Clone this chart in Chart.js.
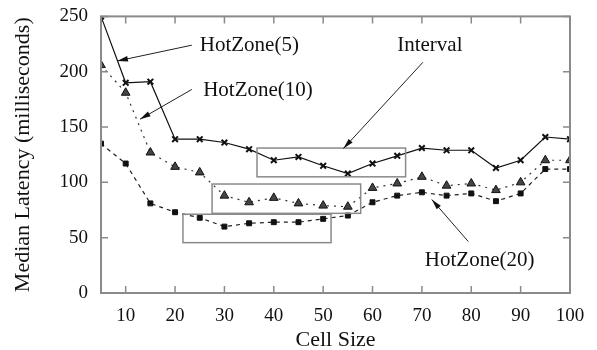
<!DOCTYPE html>
<html>
<head>
<meta charset="utf-8">
<script src="https://cdn.jsdelivr.net/npm/chart.js@4.4.0/dist/chart.umd.min.js"></script>
<style>
  html, body { margin: 0; padding: 0; background: #fff; }
  #wrap { width: 597px; height: 350px; }
</style>
</head>
<body>
<div id="wrap"><canvas id="myChart" width="597" height="350"></canvas></div>
<script>
const cellSize = [5, 10, 15, 20, 25, 30, 35, 40, 45, 50, 55, 60, 65, 70, 75, 80, 85, 90, 95, 100];
const hotZone5 = [250, 190, 191, 139, 139, 136, 130, 120, 123, 115, 108, 117, 124, 131, 129, 129, 113, 120, 141, 139];
const hotZone10 = [206, 181, 127, 114, 109, 88, 82, 86, 81, 79, 78, 95, 99, 105, 97, 99, 93, 100, 120, 120];
const hotZone20 = [135, 117, 81, 73, 68, 60, 63, 64, 64, 67, 70, 82, 88, 91, 88, 90, 83, 90, 112, 112];
const xTicks = [10, 20, 30, 40, 50, 60, 70, 80, 90, 100];
const yTicks = [0, 50, 100, 150, 200, 250];

// boxes and arrows in data units
const boxes = [
  { x0: 36.6, x1: 66.7, y0: 105, y1: 131 },
  { x0: 27.5, x1: 57.6, y0: 72, y1: 98.5 },
  { x0: 21.6, x1: 51.6, y0: 45.5, y1: 71.2 }
];
const notes = [
  { text: "HotZone(5)", x: 25.0, y: 224, from: [23.4, 224], to: [8.3, 209.7] },
  { text: "HotZone(10)", x: 25.7, y: 183, from: [23.4, 184], to: [12.9, 157] },
  { text: "Interval", x: 65.0, y: 224, from: [70.2, 208.5], to: [54.1, 130.5] },
  { text: "HotZone(20)", x: 70.6, y: 29, from: [79.4, 46.5], to: [72, 84.5] }
];

const serif = "'Liberation Serif', 'DejaVu Serif', serif";
const gray = "#8a8a8a";

const frame = {
  id: "frame",
  afterDatasetsDraw(chart) {
    const { ctx, chartArea: a, scales: { x, y } } = chart;
    ctx.save();
    ctx.strokeStyle = gray;
    ctx.lineWidth = 2;
    ctx.strokeRect(a.left, a.top, a.right - a.left, a.bottom - a.top);
    ctx.lineWidth = 1.5;
    ctx.beginPath();
    xTicks.forEach(v => {
      const px = x.getPixelForValue(v);
      ctx.moveTo(px, a.bottom); ctx.lineTo(px, a.bottom - 7);
      ctx.moveTo(px, a.top); ctx.lineTo(px, a.top + 7);
    });
    yTicks.forEach(v => {
      const py = y.getPixelForValue(v);
      ctx.moveTo(a.left, py); ctx.lineTo(a.left + 7, py);
      ctx.moveTo(a.right, py); ctx.lineTo(a.right - 7, py);
    });
    ctx.stroke();
    boxes.forEach(b => {
      const l = x.getPixelForValue(b.x0), r = x.getPixelForValue(b.x1);
      const t = y.getPixelForValue(b.y1), btm = y.getPixelForValue(b.y0);
      ctx.strokeRect(l, t, r - l, btm - t);
    });
    ctx.strokeStyle = "#222";
    ctx.fillStyle = "#111";
    ctx.lineWidth = 1;
    ctx.font = "21px " + serif;
    ctx.textBaseline = "middle";
    ctx.textAlign = "left";
    notes.forEach(n => {
      const fx = x.getPixelForValue(n.from[0]), fy = y.getPixelForValue(n.from[1]);
      const tx = x.getPixelForValue(n.to[0]), ty = y.getPixelForValue(n.to[1]);
      ctx.beginPath();
      ctx.moveTo(fx, fy); ctx.lineTo(tx, ty);
      ctx.stroke();
      const ang = Math.atan2(ty - fy, tx - fx);
      ctx.beginPath();
      ctx.moveTo(tx, ty);
      ctx.lineTo(tx - 11 * Math.cos(ang - 0.25), ty - 11 * Math.sin(ang - 0.25));
      ctx.lineTo(tx - 11 * Math.cos(ang + 0.25), ty - 11 * Math.sin(ang + 0.25));
      ctx.closePath();
      ctx.fill();
      ctx.fillText(n.text, x.getPixelForValue(n.x), y.getPixelForValue(n.y));
    });
    ctx.restore();
  }
};

function toPoints(arr) {
  return arr.map((v, i) => ({ x: cellSize[i], y: v }));
}

const canvas = document.getElementById("myChart");
const myChart = new Chart(canvas, {
  type: "line",
  data: {
    datasets: [
      {
        label: "HotZone(5)",
        data: toPoints(hotZone5),
        borderColor: "#111",
        borderWidth: 1.2,
        pointStyle: "crossRot",
        pointRadius: 4,
        pointBorderColor: "#111",
        pointBorderWidth: 2,
        tension: 0
      },
      {
        label: "HotZone(10)",
        data: toPoints(hotZone10),
        borderColor: "#333",
        borderWidth: 1.2,
        borderDash: [2, 5],
        pointStyle: "triangle",
        pointRadius: 5,
        pointBackgroundColor: "#444",
        pointBorderColor: "#111",
        pointBorderWidth: 1,
        tension: 0
      },
      {
        label: "HotZone(20)",
        data: toPoints(hotZone20),
        borderColor: "#222",
        borderWidth: 1.2,
        borderDash: [4, 4],
        pointStyle: "rect",
        pointRadius: 3.5,
        pointBackgroundColor: "#111",
        pointBorderColor: "#111",
        pointBorderWidth: 1,
        tension: 0
      }
    ]
  },
  options: {
    responsive: false,
    animation: false,
    layout: { padding: { top: 14, right: 27, left: 10, bottom: 0 } },
    plugins: { legend: { display: false }, tooltip: { enabled: false } },
    scales: {
      x: {
        type: "linear",
        min: 5,
        max: 100,
        afterBuildTicks: s => { s.ticks = xTicks.map(v => ({ value: v })); },
        afterFit: s => { s.height = 57; },
        grid: { display: false },
        border: { display: false },
        ticks: { color: "#111", font: { family: serif, size: 19 }, padding: 4, maxRotation: 0 },
        title: { display: true, text: "Cell Size", color: "#111", font: { family: serif, size: 22 }, padding: { top: 0, bottom: -3 } }
      },
      y: {
        min: 0,
        max: 250,
        afterBuildTicks: s => { s.ticks = yTicks.map(v => ({ value: v })); },
        afterFit: s => { s.width = 91; },
        grid: { display: false },
        border: { display: false },
        ticks: { color: "#111", font: { family: serif, size: 19 }, padding: 5 },
        title: { display: true, text: "Median Latency (milliseconds)", color: "#111", font: { family: serif, size: 22 }, padding: 0 }
      }
    }
  },
  plugins: [frame]
});
</script>
</body>
</html>
